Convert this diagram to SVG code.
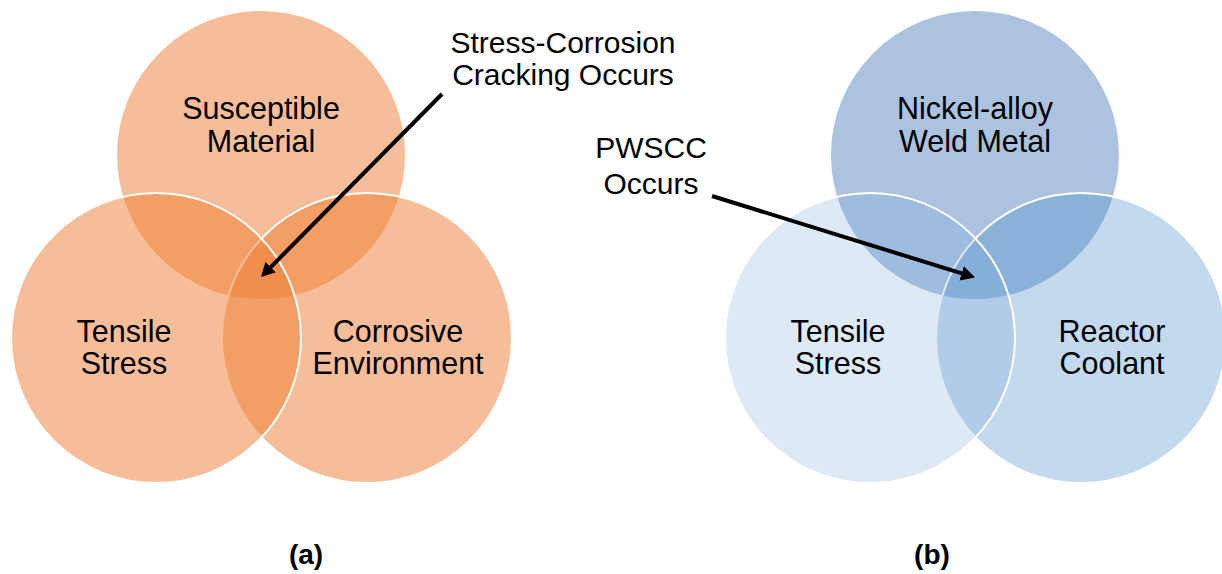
<svg xmlns="http://www.w3.org/2000/svg" width="1222" height="574" viewBox="0 0 1222 574">
  <style>
    .lbl { font-family: "Liberation Sans", Arial, sans-serif; font-size: 30.5px; fill: #000; text-anchor: middle; }
    .ann { font-family: "Liberation Sans", Arial, sans-serif; font-size: 30px; fill: #000; text-anchor: middle; }
    .cap { font-family: "Liberation Sans", Arial, sans-serif; font-size: 28px; font-weight: bold; fill: #000; text-anchor: middle; }
    .c { stroke: #fff; stroke-width: 2; }
    .orange { fill: #ED7D31; fill-opacity: 0.5; }
    .bTop { fill: rgb(79,129,189); fill-opacity: 0.48; }
    .bRight { fill: rgb(73,139,203); fill-opacity: 0.33; }
    .bLeft { fill: rgb(120,168,216); fill-opacity: 0.25; }
    .arrow { stroke: #000; stroke-width: 4; fill: none; marker-end: url(#head); }
  </style>
  <defs>
    <marker id="head" viewBox="0 0 14 15" refX="6" refY="7.5" markerWidth="14" markerHeight="15" markerUnits="userSpaceOnUse" orient="auto">
      <path d="M0,0 L14,7.5 L0,15 z" fill="#000"/>
    </marker>
  </defs>
  <rect width="1222" height="574" fill="#fff"/>

  <!-- Diagram (a) -->
  <g id="a-susceptible-material">
    <circle class="c orange" cx="261" cy="155" r="145"/>
    <text class="lbl" x="261" y="119">Susceptible</text>
    <text class="lbl" x="261" y="152">Material</text>
  </g>
  <g id="a-corrosive-environment">
    <circle class="c orange" cx="367" cy="338" r="145"/>
    <text class="lbl" x="398" y="342">Corrosive</text>
    <text class="lbl" x="398" y="374">Environment</text>
  </g>
  <g id="a-tensile-stress">
    <circle class="c orange" cx="156" cy="338" r="145"/>
    <text class="lbl" x="124" y="342">Tensile</text>
    <text class="lbl" x="124" y="374">Stress</text>
  </g>
  <g id="a-annotation">
    <text class="ann" x="563" y="53">Stress-Corrosion</text>
    <text class="ann" x="563" y="85">Cracking Occurs</text>
  </g>

  <!-- Diagram (b) -->
  <g id="b-weld-metal">
    <circle class="c bTop" cx="975" cy="155" r="145"/>
    <text class="lbl" x="975" y="119">Nickel-alloy</text>
    <text class="lbl" x="975" y="152">Weld Metal</text>
  </g>
  <g id="b-reactor-coolant">
    <circle class="c bRight" cx="1081" cy="338" r="145"/>
    <text class="lbl" x="1112" y="342">Reactor</text>
    <text class="lbl" x="1112" y="374">Coolant</text>
  </g>
  <g id="b-tensile-stress">
    <circle class="c bLeft" cx="870" cy="338" r="145"/>
    <text class="lbl" x="838" y="342">Tensile</text>
    <text class="lbl" x="838" y="374">Stress</text>
  </g>
  <g id="b-annotation">
    <text class="ann" x="651" y="158">PWSCC</text>
    <text class="ann" x="651" y="194">Occurs</text>
  </g>

  <!-- Connectors -->
  <g id="connectors">
    <line class="arrow" x1="442" y1="94" x2="266.6" y2="271.3"/>
    <line class="arrow" x1="712" y1="196" x2="967.4" y2="275.1"/>
  </g>

  <!-- Captions -->
  <g id="captions">
    <text class="cap" x="306" y="564">(a)</text>
    <text class="cap" x="932" y="564">(b)</text>
  </g>
</svg>
